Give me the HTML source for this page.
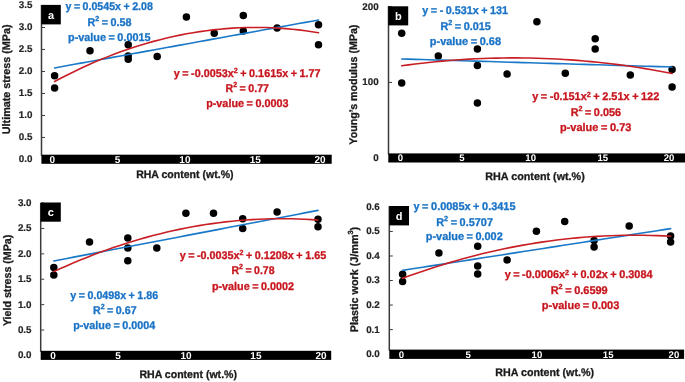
<!DOCTYPE html><html><head><meta charset="utf-8"><style>html,body{margin:0;padding:0;background:#fff;}svg{display:block;will-change:transform;}text{font-family:"Liberation Sans",sans-serif;font-weight:bold;text-rendering:geometricPrecision;}.w{stroke-width:0.3;}.e{stroke:#1a73c6}.r{stroke:#c8161e}.k{stroke:#1a1a1a}.g{stroke:#262626}.wh{stroke:#fff}.t{stroke-width:0.2}</style></head><body>
<svg width="685" height="382" viewBox="0 0 685 382">
<rect width="685" height="382" fill="#fff"/>
<rect x="40.75" y="5.00" width="1.5" height="150.70" fill="#3a3a3a"/>
<rect x="42.00" y="158.95" width="3" height="1" fill="#3a3a3a"/>
<text class="t g" x="32.40" y="162.35" font-size="9.8" fill="#262626" text-anchor="end">0.0</text>
<rect x="42.00" y="136.95" width="3" height="1" fill="#3a3a3a"/>
<text class="t g" x="32.40" y="140.35" font-size="9.8" fill="#262626" text-anchor="end">0.5</text>
<rect x="42.00" y="114.95" width="3" height="1" fill="#3a3a3a"/>
<text class="t g" x="32.40" y="118.35" font-size="9.8" fill="#262626" text-anchor="end">1.0</text>
<rect x="42.00" y="92.95" width="3" height="1" fill="#3a3a3a"/>
<text class="t g" x="32.40" y="96.35" font-size="9.8" fill="#262626" text-anchor="end">1.5</text>
<rect x="42.00" y="70.95" width="3" height="1" fill="#3a3a3a"/>
<text class="t g" x="32.40" y="74.35" font-size="9.8" fill="#262626" text-anchor="end">2.0</text>
<rect x="42.00" y="48.95" width="3" height="1" fill="#3a3a3a"/>
<text class="t g" x="32.40" y="52.35" font-size="9.8" fill="#262626" text-anchor="end">2.5</text>
<rect x="42.00" y="26.95" width="3" height="1" fill="#3a3a3a"/>
<text class="t g" x="32.40" y="30.35" font-size="9.8" fill="#262626" text-anchor="end">3.0</text>
<rect x="42.00" y="4.95" width="3" height="1" fill="#3a3a3a"/>
<text class="t g" x="32.40" y="8.35" font-size="9.8" fill="#262626" text-anchor="end">3.5</text>
<rect x="41.40" y="154.70" width="290.30" height="9.10" fill="#000"/>
<text x="52.30" y="163.00" font-size="10" fill="#fff" text-anchor="middle">0</text>
<text x="117.50" y="163.00" font-size="10" fill="#fff" text-anchor="middle">5</text>
<text x="184.90" y="163.00" font-size="10" fill="#fff" text-anchor="middle">10</text>
<text x="255.20" y="163.00" font-size="10" fill="#fff" text-anchor="middle">15</text>
<text x="320.10" y="163.00" font-size="10" fill="#fff" text-anchor="middle">20</text>
<rect x="41.30" y="4.90" width="19.50" height="19.50" fill="#000"/>
<text x="51.05" y="18.55" font-size="11" fill="#fff" text-anchor="middle">a</text>
<circle cx="54.60" cy="75.70" r="3.75" fill="#000"/>
<circle cx="54.60" cy="87.90" r="3.75" fill="#000"/>
<circle cx="90.00" cy="50.75" r="3.75" fill="#000"/>
<circle cx="128.20" cy="44.80" r="3.75" fill="#000"/>
<circle cx="128.20" cy="56.00" r="3.75" fill="#000"/>
<circle cx="128.20" cy="59.20" r="3.75" fill="#000"/>
<circle cx="157.20" cy="56.50" r="3.75" fill="#000"/>
<circle cx="186.40" cy="16.90" r="3.75" fill="#000"/>
<circle cx="214.25" cy="33.25" r="3.75" fill="#000"/>
<circle cx="243.30" cy="15.50" r="3.75" fill="#000"/>
<circle cx="243.30" cy="31.10" r="3.75" fill="#000"/>
<circle cx="277.10" cy="28.10" r="3.75" fill="#000"/>
<circle cx="318.50" cy="24.80" r="3.75" fill="#000"/>
<circle cx="318.50" cy="44.80" r="3.75" fill="#000"/>
<path d="M54.55,67.93 L61.15,66.73 L67.75,65.53 L74.35,64.33 L80.95,63.13 L87.55,61.93 L94.15,60.74 L100.75,59.54 L107.35,58.34 L113.95,57.14 L120.55,55.94 L127.15,54.74 L133.75,53.54 L140.35,52.34 L146.95,51.14 L153.55,49.94 L160.15,48.75 L166.75,47.55 L173.35,46.35 L179.95,45.15 L186.55,43.95 L193.15,42.75 L199.75,41.55 L206.35,40.35 L212.95,39.15 L219.55,37.95 L226.15,36.76 L232.75,35.56 L239.35,34.36 L245.95,33.16 L252.55,31.96 L259.15,30.76 L265.75,29.56 L272.35,28.36 L278.95,27.16 L285.55,25.97 L292.15,24.77 L298.75,23.57 L305.35,22.37 L311.95,21.17 L318.55,19.97" fill="none" stroke="#1978c8" stroke-width="1.6" stroke-linecap="round"/>
<path d="M54.55,81.57 L61.15,78.08 L67.75,74.70 L74.35,71.44 L80.95,68.29 L87.55,65.26 L94.15,62.35 L100.75,59.56 L107.35,56.88 L113.95,54.32 L120.55,51.87 L127.15,49.54 L133.75,47.33 L140.35,45.23 L146.95,43.25 L153.55,41.39 L160.15,39.65 L166.75,38.02 L173.35,36.51 L179.95,35.11 L186.55,33.83 L193.15,32.67 L199.75,31.62 L206.35,30.69 L212.95,29.88 L219.55,29.18 L226.15,28.60 L232.75,28.14 L239.35,27.79 L245.95,27.56 L252.55,27.45 L259.15,27.45 L265.75,27.57 L272.35,27.81 L278.95,28.16 L285.55,28.63 L292.15,29.22 L298.75,29.92 L305.35,30.74 L311.95,31.68 L318.55,32.73" fill="none" stroke="#c81e24" stroke-width="1.6" stroke-linecap="round"/>
<rect x="387.75" y="6.00" width="1.5" height="148.40" fill="#3a3a3a"/>
<rect x="389.00" y="157.50" width="3" height="1" fill="#3a3a3a"/>
<text class="t g" x="378.60" y="160.90" font-size="9.8" fill="#262626" text-anchor="end">0</text>
<rect x="389.00" y="81.90" width="3" height="1" fill="#3a3a3a"/>
<text class="t g" x="378.60" y="85.30" font-size="9.8" fill="#262626" text-anchor="end">100</text>
<rect x="389.00" y="6.30" width="3" height="1" fill="#3a3a3a"/>
<text class="t g" x="378.60" y="9.70" font-size="9.8" fill="#262626" text-anchor="end">200</text>
<rect x="388.30" y="153.40" width="296.70" height="9.10" fill="#000"/>
<text x="400.50" y="161.40" font-size="9.6" fill="#fff" text-anchor="middle">0</text>
<text x="461.80" y="161.40" font-size="9.6" fill="#fff" text-anchor="middle">5</text>
<text x="530.70" y="161.40" font-size="9.6" fill="#fff" text-anchor="middle">10</text>
<text x="602.80" y="161.40" font-size="9.6" fill="#fff" text-anchor="middle">15</text>
<text x="669.00" y="161.40" font-size="9.6" fill="#fff" text-anchor="middle">20</text>
<rect x="388.30" y="6.30" width="19.90" height="19.10" fill="#000"/>
<text x="398.25" y="19.75" font-size="11" fill="#fff" text-anchor="middle">b</text>
<circle cx="401.70" cy="33.30" r="3.75" fill="#000"/>
<circle cx="401.70" cy="83.10" r="3.75" fill="#000"/>
<circle cx="438.30" cy="56.10" r="3.75" fill="#000"/>
<circle cx="477.40" cy="49.00" r="3.75" fill="#000"/>
<circle cx="477.40" cy="65.40" r="3.75" fill="#000"/>
<circle cx="477.40" cy="103.05" r="3.75" fill="#000"/>
<circle cx="507.10" cy="74.10" r="3.75" fill="#000"/>
<circle cx="536.90" cy="21.75" r="3.75" fill="#000"/>
<circle cx="565.30" cy="73.30" r="3.75" fill="#000"/>
<circle cx="595.20" cy="38.75" r="3.75" fill="#000"/>
<circle cx="595.20" cy="49.10" r="3.75" fill="#000"/>
<circle cx="630.30" cy="75.00" r="3.75" fill="#000"/>
<circle cx="672.10" cy="69.50" r="3.75" fill="#000"/>
<circle cx="672.10" cy="87.10" r="3.75" fill="#000"/>
<path d="M401.70,58.96 L408.46,59.16 L415.22,59.37 L421.98,59.57 L428.74,59.77 L435.50,59.97 L442.26,60.17 L449.02,60.37 L455.78,60.57 L462.54,60.77 L469.30,60.97 L476.06,61.17 L482.82,61.37 L489.58,61.57 L496.34,61.77 L503.10,61.97 L509.86,62.18 L516.62,62.38 L523.38,62.58 L530.14,62.78 L536.90,62.98 L543.66,63.18 L550.42,63.38 L557.18,63.58 L563.94,63.78 L570.70,63.98 L577.46,64.18 L584.22,64.38 L590.98,64.58 L597.74,64.78 L604.50,64.99 L611.26,65.19 L618.02,65.39 L624.78,65.59 L631.54,65.79 L638.30,65.99 L645.06,66.19 L651.82,66.39 L658.58,66.59 L665.34,66.79 L672.10,66.99" fill="none" stroke="#1978c8" stroke-width="1.6" stroke-linecap="round"/>
<path d="M401.70,65.77 L408.46,64.85 L415.22,63.98 L421.98,63.18 L428.74,62.43 L435.50,61.74 L442.26,61.10 L449.02,60.52 L455.78,60.00 L462.54,59.54 L469.30,59.13 L476.06,58.78 L482.82,58.49 L489.58,58.26 L496.34,58.08 L503.10,57.96 L509.86,57.89 L516.62,57.89 L523.38,57.94 L530.14,58.04 L536.90,58.21 L543.66,58.43 L550.42,58.71 L557.18,59.04 L563.94,59.44 L570.70,59.89 L577.46,60.39 L584.22,60.96 L590.98,61.58 L597.74,62.25 L604.50,62.99 L611.26,63.78 L618.02,64.63 L624.78,65.54 L631.54,66.50 L638.30,67.52 L645.06,68.60 L651.82,69.73 L658.58,70.92 L665.34,72.17 L672.10,73.48" fill="none" stroke="#c81e24" stroke-width="1.6" stroke-linecap="round"/>
<rect x="39.95" y="203.00" width="1.5" height="148.80" fill="#3a3a3a"/>
<rect x="41.20" y="354.90" width="3" height="1" fill="#3a3a3a"/>
<text class="t g" x="31.50" y="358.30" font-size="9.8" fill="#262626" text-anchor="end">0.0</text>
<rect x="41.20" y="329.51" width="3" height="1" fill="#3a3a3a"/>
<text class="t g" x="31.50" y="332.91" font-size="9.8" fill="#262626" text-anchor="end">0.5</text>
<rect x="41.20" y="304.12" width="3" height="1" fill="#3a3a3a"/>
<text class="t g" x="31.50" y="307.52" font-size="9.8" fill="#262626" text-anchor="end">1.0</text>
<rect x="41.20" y="278.73" width="3" height="1" fill="#3a3a3a"/>
<text class="t g" x="31.50" y="282.13" font-size="9.8" fill="#262626" text-anchor="end">1.5</text>
<rect x="41.20" y="253.34" width="3" height="1" fill="#3a3a3a"/>
<text class="t g" x="31.50" y="256.74" font-size="9.8" fill="#262626" text-anchor="end">2.0</text>
<rect x="41.20" y="227.95" width="3" height="1" fill="#3a3a3a"/>
<text class="t g" x="31.50" y="231.35" font-size="9.8" fill="#262626" text-anchor="end">2.5</text>
<rect x="41.20" y="202.56" width="3" height="1" fill="#3a3a3a"/>
<text class="t g" x="31.50" y="205.96" font-size="9.8" fill="#262626" text-anchor="end">3.0</text>
<rect x="40.70" y="350.80" width="290.50" height="9.10" fill="#000"/>
<text x="53.10" y="359.00" font-size="10" fill="#fff" text-anchor="middle">0</text>
<text x="118.10" y="359.00" font-size="10" fill="#fff" text-anchor="middle">5</text>
<text x="186.00" y="359.00" font-size="10" fill="#fff" text-anchor="middle">10</text>
<text x="255.90" y="359.00" font-size="10" fill="#fff" text-anchor="middle">15</text>
<text x="321.00" y="359.00" font-size="10" fill="#fff" text-anchor="middle">20</text>
<rect x="40.60" y="202.50" width="20.20" height="19.20" fill="#000"/>
<text x="50.70" y="216.00" font-size="11" fill="#fff" text-anchor="middle">c</text>
<circle cx="53.80" cy="267.50" r="3.75" fill="#000"/>
<circle cx="53.80" cy="275.10" r="3.75" fill="#000"/>
<circle cx="89.50" cy="242.10" r="3.75" fill="#000"/>
<circle cx="127.80" cy="238.00" r="3.75" fill="#000"/>
<circle cx="127.80" cy="248.10" r="3.75" fill="#000"/>
<circle cx="127.80" cy="260.80" r="3.75" fill="#000"/>
<circle cx="156.80" cy="248.10" r="3.75" fill="#000"/>
<circle cx="185.90" cy="213.15" r="3.75" fill="#000"/>
<circle cx="213.50" cy="213.15" r="3.75" fill="#000"/>
<circle cx="242.70" cy="218.70" r="3.75" fill="#000"/>
<circle cx="242.70" cy="228.40" r="3.75" fill="#000"/>
<circle cx="277.10" cy="212.00" r="3.75" fill="#000"/>
<circle cx="318.00" cy="219.20" r="3.75" fill="#000"/>
<circle cx="318.00" cy="226.70" r="3.75" fill="#000"/>
<path d="M53.80,260.95 L60.41,259.68 L67.01,258.42 L73.61,257.16 L80.22,255.89 L86.83,254.63 L93.43,253.36 L100.03,252.10 L106.64,250.83 L113.25,249.57 L119.85,248.30 L126.45,247.04 L133.06,245.78 L139.67,244.51 L146.27,243.25 L152.88,241.98 L159.48,240.72 L166.09,239.45 L172.69,238.19 L179.30,236.93 L185.90,235.66 L192.50,234.40 L199.11,233.13 L205.72,231.87 L212.32,230.60 L218.93,229.34 L225.53,228.07 L232.13,226.81 L238.74,225.55 L245.35,224.28 L251.95,223.02 L258.56,221.75 L265.16,220.49 L271.76,219.22 L278.37,217.96 L284.98,216.69 L291.58,215.43 L298.19,214.17 L304.79,212.90 L311.40,211.64 L318.00,210.37" fill="none" stroke="#1978c8" stroke-width="1.6" stroke-linecap="round"/>
<path d="M53.80,271.61 L60.41,268.59 L67.01,265.66 L73.61,262.81 L80.22,260.06 L86.83,257.39 L93.43,254.81 L100.03,252.32 L106.64,249.92 L113.25,247.61 L119.85,245.39 L126.45,243.25 L133.06,241.21 L139.67,239.25 L146.27,237.38 L152.88,235.60 L159.48,233.91 L166.09,232.31 L172.69,230.80 L179.30,229.38 L185.90,228.04 L192.50,226.80 L199.11,225.64 L205.72,224.57 L212.32,223.60 L218.93,222.71 L225.53,221.90 L232.13,221.19 L238.74,220.57 L245.35,220.03 L251.95,219.59 L258.56,219.23 L265.16,218.96 L271.76,218.79 L278.37,218.70 L284.98,218.69 L291.58,218.78 L298.19,218.96 L304.79,219.22 L311.40,219.58 L318.00,220.02" fill="none" stroke="#c81e24" stroke-width="1.6" stroke-linecap="round"/>
<rect x="388.55" y="206.00" width="1.5" height="144.60" fill="#3a3a3a"/>
<rect x="389.80" y="353.64" width="3" height="1" fill="#3a3a3a"/>
<text class="t g" x="379.80" y="357.04" font-size="9.8" fill="#262626" text-anchor="end">0.0</text>
<rect x="389.80" y="329.10" width="3" height="1" fill="#3a3a3a"/>
<text class="t g" x="379.80" y="332.50" font-size="9.8" fill="#262626" text-anchor="end">0.1</text>
<rect x="389.80" y="304.56" width="3" height="1" fill="#3a3a3a"/>
<text class="t g" x="379.80" y="307.96" font-size="9.8" fill="#262626" text-anchor="end">0.2</text>
<rect x="389.80" y="280.02" width="3" height="1" fill="#3a3a3a"/>
<text class="t g" x="379.80" y="283.42" font-size="9.8" fill="#262626" text-anchor="end">0.3</text>
<rect x="389.80" y="255.48" width="3" height="1" fill="#3a3a3a"/>
<text class="t g" x="379.80" y="258.88" font-size="9.8" fill="#262626" text-anchor="end">0.4</text>
<rect x="389.80" y="230.94" width="3" height="1" fill="#3a3a3a"/>
<text class="t g" x="379.80" y="234.34" font-size="9.8" fill="#262626" text-anchor="end">0.5</text>
<rect x="389.80" y="206.40" width="3" height="1" fill="#3a3a3a"/>
<text class="t g" x="379.80" y="209.80" font-size="9.8" fill="#262626" text-anchor="end">0.6</text>
<rect x="389.30" y="349.60" width="294.80" height="9.30" fill="#000"/>
<text x="401.40" y="357.70" font-size="9.6" fill="#fff" text-anchor="middle">0</text>
<text x="468.10" y="357.70" font-size="9.6" fill="#fff" text-anchor="middle">5</text>
<text x="536.90" y="357.70" font-size="9.6" fill="#fff" text-anchor="middle">10</text>
<text x="608.20" y="357.70" font-size="9.6" fill="#fff" text-anchor="middle">15</text>
<text x="673.90" y="357.70" font-size="9.6" fill="#fff" text-anchor="middle">20</text>
<rect x="389.30" y="206.00" width="19.70" height="19.40" fill="#000"/>
<text x="399.15" y="219.60" font-size="11" fill="#fff" text-anchor="middle">d</text>
<circle cx="402.60" cy="274.20" r="3.75" fill="#000"/>
<circle cx="402.60" cy="281.40" r="3.75" fill="#000"/>
<circle cx="438.90" cy="253.00" r="3.75" fill="#000"/>
<circle cx="477.70" cy="246.30" r="3.75" fill="#000"/>
<circle cx="477.70" cy="265.90" r="3.75" fill="#000"/>
<circle cx="477.70" cy="273.90" r="3.75" fill="#000"/>
<circle cx="507.10" cy="259.90" r="3.75" fill="#000"/>
<circle cx="536.40" cy="231.30" r="3.75" fill="#000"/>
<circle cx="564.70" cy="221.60" r="3.75" fill="#000"/>
<circle cx="594.10" cy="240.50" r="3.75" fill="#000"/>
<circle cx="594.10" cy="246.90" r="3.75" fill="#000"/>
<circle cx="629.20" cy="226.00" r="3.75" fill="#000"/>
<circle cx="670.60" cy="236.00" r="3.75" fill="#000"/>
<circle cx="670.60" cy="242.00" r="3.75" fill="#000"/>
<path d="M402.60,270.34 L409.30,269.29 L416.00,268.25 L422.70,267.21 L429.40,266.16 L436.10,265.12 L442.80,264.08 L449.50,263.04 L456.20,261.99 L462.90,260.95 L469.60,259.91 L476.30,258.86 L483.00,257.82 L489.70,256.78 L496.40,255.73 L503.10,254.69 L509.80,253.65 L516.50,252.61 L523.20,251.56 L529.90,250.52 L536.60,249.48 L543.30,248.43 L550.00,247.39 L556.70,246.35 L563.40,245.31 L570.10,244.26 L576.80,243.22 L583.50,242.18 L590.20,241.13 L596.90,240.09 L603.60,239.05 L610.30,238.00 L617.00,236.96 L623.70,235.92 L630.40,234.88 L637.10,233.83 L643.80,232.79 L650.50,231.75 L657.20,230.70 L663.90,229.66 L670.60,228.62" fill="none" stroke="#1978c8" stroke-width="1.6" stroke-linecap="round"/>
<path d="M402.60,278.29 L409.30,275.83 L416.00,273.45 L422.70,271.14 L429.40,268.90 L436.10,266.73 L442.80,264.64 L449.50,262.62 L456.20,260.67 L462.90,258.79 L469.60,256.98 L476.30,255.25 L483.00,253.58 L489.70,251.99 L496.40,250.47 L503.10,249.03 L509.80,247.65 L516.50,246.35 L523.20,245.12 L529.90,243.96 L536.60,242.88 L543.30,241.86 L550.00,240.92 L556.70,240.05 L563.40,239.25 L570.10,238.52 L576.80,237.87 L583.50,237.29 L590.20,236.78 L596.90,236.34 L603.60,235.97 L610.30,235.68 L617.00,235.46 L623.70,235.31 L630.40,235.23 L637.10,235.22 L643.80,235.29 L650.50,235.43 L657.20,235.64 L663.90,235.92 L670.60,236.27" fill="none" stroke="#c81e24" stroke-width="1.6" stroke-linecap="round"/>
<text class="w e" id="a1" x="65.54" y="10.10" font-size="11.2" fill="#1a73c6" word-spacing="-0.5" textLength="87.32" lengthAdjust="spacingAndGlyphs">y = 0.0545x + 2.08</text>
<text class="w e" id="a2" x="87.39" y="25.60" font-size="11.2" fill="#1a73c6" word-spacing="-0.5" textLength="44.08" lengthAdjust="spacingAndGlyphs">R<tspan dy="-5" font-size="7.4">2</tspan><tspan dy="5"> = 0.58</tspan></text>
<text class="w e" id="a3" x="68.00" y="40.55" font-size="11.2" fill="#1a73c6" word-spacing="-0.5" textLength="82.56" lengthAdjust="spacingAndGlyphs">p-value = 0.0015</text>
<text class="w r" id="a4" x="173.74" y="76.65" font-size="11.2" fill="#c8161e" word-spacing="-0.5" textLength="146.83" lengthAdjust="spacingAndGlyphs">y = -0.0053x<tspan dy="-3.8" font-size="7.4">2</tspan><tspan dy="3.8"> + 0.1615x + 1.77</tspan></text>
<text class="w r" id="a5" x="225.48" y="91.90" font-size="11.2" fill="#c8161e" word-spacing="-0.5" textLength="43.51" lengthAdjust="spacingAndGlyphs">R<tspan dy="-5" font-size="7.4">2</tspan><tspan dy="5"> = 0.77</tspan></text>
<text class="w r" id="a6" x="206.15" y="106.95" font-size="11.2" fill="#c8161e" word-spacing="-0.5" textLength="82.34" lengthAdjust="spacingAndGlyphs">p-value = 0.0003</text>
<text class="w e" id="b1" x="422.36" y="14.10" font-size="11.2" fill="#1a73c6" word-spacing="-0.5" textLength="85.56" lengthAdjust="spacingAndGlyphs">y = - 0.531x + 131</text>
<text class="w e" id="b2" x="440.38" y="29.50" font-size="11.2" fill="#1a73c6" word-spacing="-0.5" textLength="50.42" lengthAdjust="spacingAndGlyphs">R<tspan dy="-5" font-size="7.4">2</tspan><tspan dy="5"> = 0.015</tspan></text>
<text class="w e" id="b3" x="429.79" y="44.60" font-size="11.2" fill="#1a73c6" word-spacing="-0.5" textLength="71.25" lengthAdjust="spacingAndGlyphs">p-value = 0.68</text>
<text class="w r" id="b4" x="532.21" y="100.30" font-size="11.2" fill="#c8161e" word-spacing="-0.5" textLength="127.07" lengthAdjust="spacingAndGlyphs">y = -0.151x<tspan dy="-3.8" font-size="7.4">2</tspan><tspan dy="3.8"> + 2.51x + 122</tspan></text>
<text class="w r" id="b5" x="570.64" y="115.50" font-size="11.2" fill="#c8161e" word-spacing="-0.5" textLength="50.35" lengthAdjust="spacingAndGlyphs">R<tspan dy="-5" font-size="7.4">2</tspan><tspan dy="5"> = 0.056</tspan></text>
<text class="w r" id="b6" x="559.91" y="130.80" font-size="11.2" fill="#c8161e" word-spacing="-0.5" textLength="71.50" lengthAdjust="spacingAndGlyphs">p-value = 0.73</text>
<text class="w e" id="c1" x="70.36" y="299.20" font-size="11.2" fill="#1a73c6" word-spacing="-0.5" textLength="87.72" lengthAdjust="spacingAndGlyphs">y = 0.0498x + 1.86</text>
<text class="w e" id="c2" x="92.94" y="314.30" font-size="11.2" fill="#1a73c6" word-spacing="-0.5" textLength="43.70" lengthAdjust="spacingAndGlyphs">R<tspan dy="-5" font-size="7.4">2</tspan><tspan dy="5"> = 0.67</tspan></text>
<text class="w e" id="c3" x="73.13" y="329.30" font-size="11.2" fill="#1a73c6" word-spacing="-0.5" textLength="82.15" lengthAdjust="spacingAndGlyphs">p-value = 0.0004</text>
<text class="w r" id="c4" x="179.63" y="258.80" font-size="11.2" fill="#c8161e" word-spacing="-0.5" textLength="146.55" lengthAdjust="spacingAndGlyphs">y = -0.0035x<tspan dy="-3.8" font-size="7.4">2</tspan><tspan dy="3.8"> + 0.1208x + 1.65</tspan></text>
<text class="w r" id="c5" x="231.50" y="274.15" font-size="11.2" fill="#c8161e" word-spacing="-0.5" textLength="43.01" lengthAdjust="spacingAndGlyphs">R<tspan dy="-5" font-size="7.4">2</tspan><tspan dy="5"> = 0.78</tspan></text>
<text class="w r" id="c6" x="211.93" y="289.80" font-size="11.2" fill="#c8161e" word-spacing="-0.5" textLength="82.12" lengthAdjust="spacingAndGlyphs">p-value = 0.0002</text>
<text class="w e" id="d1" x="413.49" y="210.30" font-size="11.2" fill="#1a73c6" word-spacing="-0.5" textLength="102.03" lengthAdjust="spacingAndGlyphs">y = 0.0085x + 0.3415</text>
<text class="w e" id="d2" x="436.17" y="225.50" font-size="11.2" fill="#1a73c6" word-spacing="-0.5" textLength="56.85" lengthAdjust="spacingAndGlyphs">R<tspan dy="-5" font-size="7.4">2</tspan><tspan dy="5"> = 0.5707</tspan></text>
<text class="w e" id="d3" x="425.79" y="240.40" font-size="11.2" fill="#1a73c6" word-spacing="-0.5" textLength="76.98" lengthAdjust="spacingAndGlyphs">p-value = 0.002</text>
<text class="w r" id="d4" x="504.63" y="278.30" font-size="11.2" fill="#c8161e" word-spacing="-0.5" textLength="147.91" lengthAdjust="spacingAndGlyphs">y = -0.0006x<tspan dy="-3.8" font-size="7.4">2</tspan><tspan dy="3.8"> + 0.02x + 0.3084</tspan></text>
<text class="w r" id="d5" x="550.63" y="293.50" font-size="11.2" fill="#c8161e" word-spacing="-0.5" textLength="57.11" lengthAdjust="spacingAndGlyphs">R<tspan dy="-5" font-size="7.4">2</tspan><tspan dy="5"> = 0.6599</tspan></text>
<text class="w r" id="d6" x="541.77" y="308.80" font-size="11.2" fill="#c8161e" word-spacing="-0.5" textLength="77.56" lengthAdjust="spacingAndGlyphs">p-value = 0.003</text>
<text class="w k" id="ax" x="136.13" y="177.70" font-size="11" fill="#1a1a1a" word-spacing="0" textLength="97.40" lengthAdjust="spacingAndGlyphs">RHA content (wt.%)</text>
<text class="w k" id="bx" x="485.26" y="179.70" font-size="11" fill="#1a1a1a" word-spacing="0" textLength="99.52" lengthAdjust="spacingAndGlyphs">RHA content (wt.%)</text>
<text class="w k" id="cx" x="139.39" y="377.70" font-size="11" fill="#1a1a1a" word-spacing="0" textLength="97.60" lengthAdjust="spacingAndGlyphs">RHA content (wt.%)</text>
<text class="w k" id="dx" x="495.27" y="375.90" font-size="11" fill="#1a1a1a" word-spacing="0" textLength="98.72" lengthAdjust="spacingAndGlyphs">RHA content (wt.%)</text>
<text class="w k" id="ay" transform="translate(10.20,134.24) rotate(-90)" x="0" y="0" font-size="11" fill="#1a1a1a" textLength="109.80" lengthAdjust="spacingAndGlyphs">Ultimate stress (MPa)</text>
<text class="w k" id="by" transform="translate(356.80,144.67) rotate(-90)" x="0" y="0" font-size="11" fill="#1a1a1a" textLength="120.06" lengthAdjust="spacingAndGlyphs">Young’s modulus (MPa)</text>
<text class="w k" id="cy" transform="translate(11.00,326.12) rotate(-90)" x="0" y="0" font-size="11" fill="#1a1a1a" textLength="91.43" lengthAdjust="spacingAndGlyphs">Yield stress (MPa)</text>
<text class="w k" id="dy" transform="translate(358.00,332.18) rotate(-90)" x="0" y="0" font-size="11" fill="#1a1a1a" textLength="105.31" lengthAdjust="spacingAndGlyphs">Plastic work (J/mm<tspan dy="-5" font-size="7.4">3</tspan><tspan dy="5">)</tspan></text>
</svg></body></html>
